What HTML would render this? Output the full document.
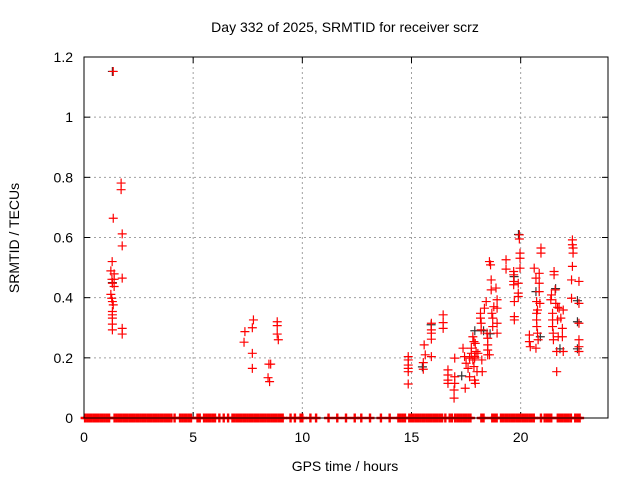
<!DOCTYPE html>
<html><head><meta charset="utf-8"><style>
body{margin:0;background:#fff;}
svg{display:block;font-family:"Liberation Sans",sans-serif;}
</style></head><body>
<svg id="chart" width="640" height="480">
<text x="345" y="32" font-size="14" text-anchor="middle">Day 332 of 2025, SRMTID for receiver scrz</text>
<text x="345" y="471" font-size="14" text-anchor="middle">GPS time / hours</text>
<text transform="translate(19,238) rotate(-90)" font-size="14" text-anchor="middle">SRMTID / TECUs</text>
<g id="grid"></g><g id="ticks"></g><g id="blackpts"></g><g id="zeropts"></g><g id="redpts"></g>
<rect x="84" y="57" width="524" height="361" fill="none" stroke="#000" stroke-width="1"/>
</svg>
<script>
const xTicks=[0,5,10,15,20];
const yTicks=[0,0.2,0.4,0.6,0.8,1,1.2];
const yTickLabels=["0","0.2","0.4","0.6","0.8","1","1.2"];
const zeroHours=[0.05,0.15,0.25,0.35,0.45,0.55,0.65,0.75,0.85,0.95,1.05,1.15,1.4,1.5,1.6,1.7,1.8,1.9,2.0,2.1,2.2,2.3,2.4,2.5,2.6,2.7,2.8,2.9,3.0,3.1,3.2,3.3,3.4,3.5,3.6,3.7,3.8,3.9,4.0,4.15,4.4,4.5,4.6,4.7,4.8,4.9,5.2,5.3,5.5,5.6,5.7,5.8,5.9,6.0,6.2,6.4,6.6,6.8,6.9,7.0,7.1,7.2,7.3,7.4,7.5,7.6,7.7,7.8,7.9,8.0,8.1,8.2,8.3,8.4,8.5,8.6,8.7,8.8,8.9,9.0,9.1,9.46,9.66,9.92,10.0,10.37,10.63,11.2,11.6,12.0,12.4,12.7,13.1,13.6,14.0,14.4,14.5,14.6,14.7,14.9,15.0,15.1,15.2,15.3,15.4,15.5,15.6,15.7,15.8,15.9,16.0,16.1,16.2,16.3,16.4,16.55,16.75,16.85,17.0,17.1,17.2,17.3,17.4,17.5,17.6,17.7,18.2,18.3,18.7,18.8,18.9,19.1,19.2,19.3,19.4,19.5,19.6,19.7,19.8,19.9,20.0,20.1,20.2,20.3,20.4,20.5,20.6,20.93,21.1,21.2,21.3,21.4,21.7,21.8,21.9,22.0,22.1,22.2,22.3,22.5,22.6,22.7];
const redHours=[1.34,1.70,1.70,1.34,1.75,1.75,1.29,1.23,1.38,1.28,1.38,1.75,1.30,1.38,1.23,1.27,1.30,1.34,1.30,1.30,1.30,1.30,1.30,1.75,1.75,
7.76,7.37,7.71,7.33,7.71,7.71,8.47,8.55,8.43,8.50,8.85,8.85,8.85,8.90,
14.85,14.85,14.85,14.85,14.85,14.85,15.58,15.63,15.54,15.54,15.91,15.91,15.91,15.91,15.91,16.45,16.45,16.45,
16.67,16.67,16.67,16.67,16.98,16.98,16.98,16.95,16.95,17.46,
17.36,17.43,17.50,17.59,17.66,17.74,17.81,17.86,17.89,17.92,17.81,17.86,17.74,17.92,17.96,17.89,18.04,18.00,18.22,18.24,17.89,17.66,
18.16,18.16,18.19,18.19,18.34,18.42,18.46,18.49,18.49,18.49,18.49,18.57,18.57,18.62,18.65,18.65,18.68,18.72,18.72,18.77,18.87,18.92,18.92,18.92,18.92,19.33,19.33,
19.68,19.68,19.68,19.68,19.71,19.71,19.71,19.89,19.89,19.89,19.94,19.94,19.97,19.97,19.97,
20.40,20.40,20.44,20.62,20.70,20.73,20.73,20.73,20.74,20.77,20.80,20.85,20.85,20.85,20.88,20.93,20.93,20.70,20.77,
21.38,21.41,21.46,21.46,21.46,21.49,21.50,21.53,21.53,21.58,21.61,21.65,21.65,21.69,21.69,21.72,21.76,21.84,21.91,21.91,21.95,21.95,
22.37,22.37,22.40,22.40,22.37,22.33,22.33,22.67,22.67,22.67,22.67,22.67,22.67];
const redValues=[1.152,0.781,0.759,0.664,0.612,0.572,0.52,0.489,0.479,0.461,0.461,0.465,0.448,0.437,0.411,0.398,0.387,0.376,0.354,0.343,0.332,0.312,0.293,0.298,0.279,
0.326,0.287,0.300,0.252,0.215,0.165,0.179,0.179,0.134,0.121,0.320,0.307,0.279,0.260,
0.204,0.193,0.165,0.154,0.113,0.176,0.243,0.210,0.184,0.162,0.315,0.293,0.282,0.262,0.204,0.343,0.317,0.298,
0.160,0.143,0.126,0.115,0.199,0.137,0.115,0.093,0.066,0.099,
0.232,0.204,0.182,0.165,0.137,0.215,0.193,0.171,0.126,0.115,0.270,0.254,0.232,0.248,0.221,0.199,0.215,0.154,0.193,0.154,0.204,0.199,
0.348,0.332,0.315,0.293,0.365,0.387,0.282,0.265,0.243,0.226,0.210,0.520,0.210,0.509,0.459,0.426,0.348,0.332,0.304,0.370,0.432,0.393,0.365,0.315,0.282,0.526,0.495,
0.487,0.476,0.454,0.443,0.387,0.337,0.326,0.448,0.415,0.404,0.609,0.595,0.548,0.531,0.498,
0.276,0.254,0.237,0.498,0.465,0.387,0.348,0.326,0.304,0.282,0.260,0.481,0.448,0.420,0.381,0.565,0.548,0.232,0.359,
0.393,0.409,0.348,0.326,0.304,0.282,0.260,0.487,0.476,0.426,0.381,0.221,0.154,0.368,0.326,0.270,0.365,0.332,0.298,0.270,0.221,0.359,
0.592,0.576,0.565,0.548,0.504,0.459,0.398,0.454,0.381,0.315,0.260,0.237,0.221];
const blackHours=[1.3,15.5,15.9,17.3,18.6,19.9,19.7,20.7,21.6,21.8,22.6,22.6,22.6,1.3,17.9,18.3,20.9];
const blackValues=[1.152,0.17,0.31,0.14,0.28,0.61,0.47,0.42,0.43,0.23,0.32,0.23,0.39,0.45,0.29,0.29,0.27];

const X0=84,X1=608,Y0=418,Y1=57,XMAX=24,YMAX=1.2;
function xs(h){return X0+(X1-X0)*h/XMAX;}
function ys(v){return Y0-(Y0-Y1)*v/YMAX;}
const NS="http://www.w3.org/2000/svg";
function el(tag,attrs,parent){const e=document.createElementNS(NS,tag);for(const k in attrs)e.setAttribute(k,attrs[k]);parent.appendChild(e);return e;}
const grid=document.getElementById('grid'),ticks=document.getElementById('ticks');
xTicks.forEach((t,i)=>{
  const x=xs(t);
  if(t>0){const g=el('line',{x1:x,x2:x,y1:Y1,y2:Y0,stroke:'#a0a0a0','stroke-dasharray':'2,3'},grid);
  
  }
  el('line',{x1:x,x2:x,y1:Y0,y2:Y0-6,stroke:'#000'},ticks);
  el('line',{x1:x,x2:x,y1:Y1,y2:Y1+6,stroke:'#000'},ticks);
  const tx=el('text',{x:x,y:442,'font-size':14,'text-anchor':'middle'},ticks);
  tx.textContent=String(t);
  
  
});
yTicks.forEach((t,i)=>{
  const y=ys(t);
  if(t>0&&t<YMAX){const g=el('line',{x1:X0,x2:X1,y1:y,y2:y,stroke:'#a0a0a0','stroke-dasharray':'2,3'},grid);
  
  }
  el('line',{x1:X0,x2:X0+6,y1:y,y2:y,stroke:'#000'},ticks);
  el('line',{x1:X1,x2:X1-6,y1:y,y2:y,stroke:'#000'},ticks);
  const tx=el('text',{x:73,y:y+5,'font-size':14,'text-anchor':'end'},ticks);
  tx.textContent=yTickLabels[i];
  
  
});
function plus(parent,h,v,color,name,sw){
  const x=xs(h),y=ys(v);
  const p=el('path',{d:`M${x-4.5},${y}h9M${x},${y-4.5}v9`,stroke:color,'stroke-width':sw,fill:'none'},parent);
  
  
}
const bg=document.getElementById('blackpts');
blackHours.forEach((h,i)=>plus(bg,h,blackValues[i],'#333','black-point',1.2));
const zg=document.getElementById('zeropts');
zeroHours.forEach(h=>plus(zg,h,0,'#ff0000','zero-point',2.4));
const rg=document.getElementById('redpts');
redHours.forEach((h,i)=>plus(rg,h,redValues[i],'#ff0000','srmtid-point',1.2));
</script>
</body></html>
